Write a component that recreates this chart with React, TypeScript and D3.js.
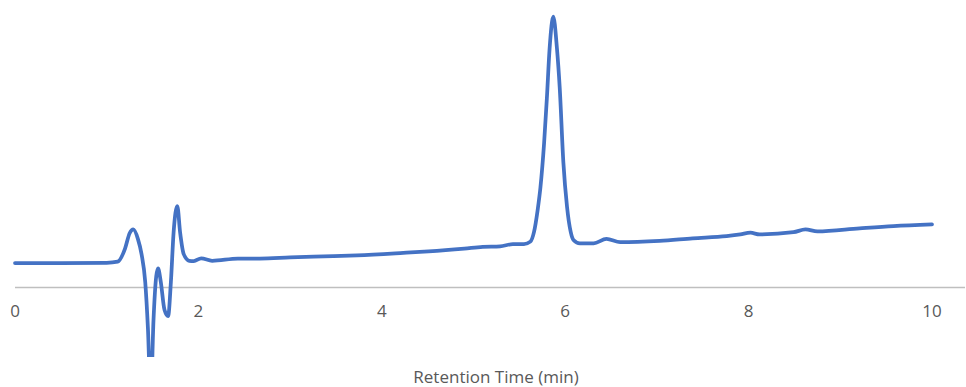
import React from "react";
import * as d3 from "d3";

const times = [0, 0.5, 1.0, 1.12, 1.2, 1.25, 1.29, 1.34, 1.38, 1.42, 1.45, 1.48, 1.51, 1.54, 1.56, 1.59, 1.63, 1.67, 1.7, 1.73, 1.77, 1.8, 1.84, 1.9, 1.95, 2.03, 2.15, 2.43, 2.67, 3.0, 3.47, 3.73, 4.2, 4.51, 4.9, 5.1, 5.29, 5.43, 5.55, 5.62, 5.66, 5.7, 5.73, 5.77, 5.8, 5.83, 5.87, 5.91, 5.94, 5.98, 6.02, 6.06, 6.09, 6.16, 6.31, 6.45, 6.6, 7.03, 7.39, 7.76, 7.91, 8.02, 8.12, 8.49, 8.62, 8.75, 9.21, 9.58, 10.0];
const signal = [8.8, 8.8, 8.9, 9.3, 14, 19.5, 20.9, 17.5, 12, 2, -15, -40, -12, 4, 6.9, 2, -8, -10.3, 2, 20, 29.3, 20, 12, 9.6, 9.5, 10.5, 9.6, 10.4, 10.4, 10.8, 11.3, 11.6, 12.4, 13.0, 14.0, 14.6, 14.8, 15.6, 15.6, 16.5, 20, 28, 36, 52, 68, 86, 97.4, 86, 72, 45, 29, 20, 17.1, 15.9, 15.9, 17.5, 16.3, 16.8, 17.7, 18.5, 19.1, 19.7, 19.1, 19.9, 20.9, 20.2, 21.3, 22.1, 22.7];
const xTicks = [0, 2, 4, 6, 8, 10];
const xTitle = "Retention Time (min)";

export default function App() {
  const W = 966, H = 387;
  const x = d3.scaleLinear().domain([0, 10]).range([15, 932]);
  const y = d3.scaleLinear().domain([-25, 100]).range([357, 9.5]);
  const pts = times.map((t, i) => [t, signal[i]] as [number, number]);
  const line = d3.line<[number, number]>().x(d => x(d[0])).y(d => y(d[1])).curve(d3.curveMonotoneX);
  const font = "'Open Sans', 'Liberation Sans', sans-serif";
  return (
    <svg width={W} height={H} style={{ position: "absolute", left: 0, top: 0, background: "#fff" }}>
      <defs>
        <clipPath id="plot"><rect x={0} y={0} width={W} height={357} /></clipPath>
      </defs>
      <line x1={x(0)} x2={965} y1={y(0)} y2={y(0)} stroke="#bfbfbf" strokeWidth={1.5} />
      {xTicks.map(t => (
        <text key={t} x={x(t)} y={y(0) + 29.5} textAnchor="middle" fontFamily={font} fontSize={17} fill="#595959">{t}</text>
      ))}
      <text x={496} y={383} textAnchor="middle" fontFamily={font} fontSize={17} fill="#595959">{xTitle}</text>
      <path d={line(pts) ?? ""} fill="none" stroke="#4472C4" strokeWidth={3.75} strokeLinejoin="round" strokeLinecap="round" clipPath="url(#plot)" />
    </svg>
  );
}
